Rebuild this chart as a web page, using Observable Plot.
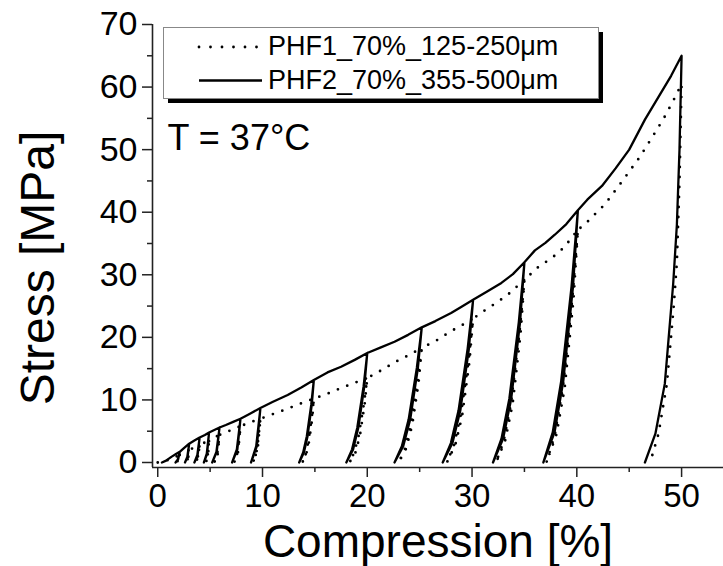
<!DOCTYPE html>
<html><head><meta charset="utf-8">
<script src="https://cdn.jsdelivr.net/npm/d3@7"></script>
<script src="https://cdn.jsdelivr.net/npm/@observablehq/plot@0.6"></script>
<style>
html,body{margin:0;padding:0;background:#fff;}
#chart{position:relative;width:723px;height:566px;font-family:"Liberation Sans",Arial,sans-serif;}
</style></head><body><div id="chart"></div>
<script>
const seriesNames = ["PHF1_70%_125-250μm", "PHF2_70%_355-500μm"];
const xTitle = "Compression [%]";
const yTitle = "Stress [MPa]";
const annotation = "T = 37°C";
const xMajor = [0, 10, 20, 30, 40, 50];
const xMinor = [5, 15, 25, 35, 45];
const yMajor = [0, 10, 20, 30, 40, 50, 60, 70];
const yMinor = [5, 15, 25, 35, 45, 55, 65];
const xDomain = [-0.5, 54];
const yDomain = [-0.8, 70];

// PHF1 (dotted): [strain %, stress MPa] along the loading/unloading path
const phf1 = [
[0,0],[0.6,0.2],[1.2,0.5],[1.7,0.9],[2.1,1.2],
[1.97,0.4],[1.8,0],[2.0,0.4],[2.1,1.2],
[2.5,1.5],[3.0,2.0],
[2.87,0.6],[2.7,0],[2.9,0.6],[3.0,2.0],
[3.5,2.4],[4.0,2.8],
[3.82,0.8],[3.6,0],[3.85,0.8],[4.0,2.8],
[4.5,3.2],[4.9,3.6],
[4.77,1.1],[4.6,0],[4.8,1.1],[4.9,3.6],
[5.4,4.0],[5.9,4.4],
[5.68,1.3],[5.4,0],[5.72,1.3],[5.9,4.4],
[6.9,5.1],[7.9,5.8],
[7.63,1.7],[7.3,0],[7.67,1.7],[7.9,5.8],
[8.8,6.4],[9.8,7.0],
[9.49,2.1],[9.1,0],[9.54,2.1],[9.8,7.0],
[11.1,7.8],[12.4,8.6],[13.6,9.4],[14.9,10.2],
[14.7,7.1],[14.37,3.3],[14.1,1.2],[13.8,0],[14.15,1.2],[14.44,3.3],[14.75,7.1],[14.9,10.2],
[16.2,11.0],[17.8,12.1],[20.0,13.5],
[19.69,9.5],[19.18,4.3],[18.76,1.6],[18.3,0],[18.87,1.6],[19.3,4.3],[19.76,9.5],[20.0,13.5],
[21.2,14.6],[22.6,16.0],[23.9,17.1],[25.2,18.3],
[24.8,12.8],[24.14,5.9],[23.59,2.2],[23.0,0],[23.7,2.2],[24.28,5.9],[24.9,12.8],[25.2,18.3],
[26.7,19.6],[28.0,21.0],[29.0,21.9],[30.1,23.0],
[29.65,16.1],[28.9,7.4],[28.28,2.8],[27.6,0],[28.4,2.8],[29.05,7.4],[29.75,16.1],[30.1,23.0],
[31.2,24.3],[32.3,25.5],[33.4,26.8],[35.0,29.2],
[34.51,20.4],[33.7,9.3],[33.03,3.5],[32.3,0],[33.16,3.5],[33.87,9.3],[34.62,20.4],[35.0,29.2],
[36.3,31.2],[37.7,32.8],[38.8,34.4],[40.1,37.2],
[39.56,26.0],[38.66,11.9],[37.91,4.5],[37.1,0],[38.06,4.5],[38.84,11.9],[39.68,26.0],[40.1,37.2],
[40.8,38.1],[41.8,39.8],[42.7,41.3],[44.4,45.1],[46.0,48.8],[47.2,52.0],[48.3,55.0],[49.2,57.8],[50.0,60.5],
[49.8,45.0],[49.55,32.0],[49.25,25.0],[48.6,12.6],[47.8,4.6],[47.0,0]
];

// PHF2 (solid)
const phf2 = [
[0.4,0],[0.8,0.3],[1.3,0.9],[1.7,1.3],[2.1,1.7],
[1.92,0.5],[1.7,0],[1.95,0.5],[2.1,1.7],
[2.5,2.3],[3.0,3.0],
[2.82,0.9],[2.6,0],[2.85,0.9],[3.0,3.0],
[3.5,3.5],[4.0,4.0],
[3.78,1.2],[3.5,0],[3.81,1.2],[4.0,4.0],
[4.5,4.4],[4.9,4.8],
[4.68,1.4],[4.4,0],[4.71,1.4],[4.9,4.8],
[5.4,5.2],[5.9,5.6],
[5.6,1.7],[5.2,0],[5.63,1.7],[5.9,5.6],
[6.5,6.0],[7.2,6.5],[7.9,7.0],
[7.55,2.1],[7.1,0],[7.6,2.1],[7.9,7.0],
[8.8,7.8],[9.8,8.7],
[9.4,2.6],[8.9,0],[9.46,2.6],[9.8,8.7],
[11.0,9.7],[12.4,10.8],[13.7,12.0],[14.9,13.2],
[14.65,9.2],[14.23,4.2],[13.88,1.6],[13.5,0],[13.95,1.6],[14.3,4.2],[14.7,9.2],[14.9,13.2],
[16.2,14.4],[17.5,15.3],[18.8,16.4],[20.0,17.5],
[19.65,12.2],[19.05,5.6],[18.55,2.1],[18.0,0],[18.65,2.1],[19.15,5.6],[19.72,12.2],[20.0,17.5],
[21.3,18.4],[22.6,19.3],[23.9,20.4],[25.2,21.6],
[24.73,15.1],[23.95,6.9],[23.3,2.6],[22.6,0],[23.43,2.6],[24.1,6.9],[24.83,15.1],[25.2,21.6],
[26.5,22.6],[28.0,23.9],[29.0,24.9],[30.1,26.0],
[29.58,18.2],[28.71,8.3],[27.98,3.1],[27.2,0],[28.13,3.1],[28.88,8.3],[29.7,18.2],[30.1,26.0],
[31.4,27.3],[32.8,28.7],[33.9,30.1],[35.0,32.0],
[34.46,22.4],[33.56,10.2],[32.81,3.8],[32.0,0],[32.96,3.8],[33.74,10.2],[34.58,22.4],[35.0,32.0],
[36.0,33.9],[37.0,35.1],[37.9,36.4],[39.0,38.1],[40.1,40.3],
[39.5,28.2],[38.5,12.9],[37.7,4.8],[36.8,0],[37.87,4.8],[38.7,12.9],[39.64,28.2],[40.1,40.3],
[41.0,42.0],[42.4,44.2],[43.7,47.0],[45.0,50.0],[46.5,54.8],[48.0,59.0],[49.0,61.8],[50.0,65.0],
[49.8,50.0],[49.55,38.0],[49.2,28.6],[48.4,12.6],[47.5,4.6],[46.5,0]
];

const toRows = (arr, name) => arr.map(([x, y]) => ({series: name, x, y}));
const rows1 = toRows(phf1, seriesNames[0]);
const rows2 = toRows(phf2, seriesNames[1]);

const font = "'Liberation Sans', Arial, sans-serif";
const axisStroke = "#222";

const plot = Plot.plot({
  width: 723, height: 566,
  marginLeft: 152, marginRight: 0, marginTop: 24, marginBottom: 99,
  x: {domain: xDomain, label: null},
  y: {domain: yDomain, label: null},
  style: {fontFamily: font, background: "white", color: "black"},
  marks: [
    Plot.ruleX([xDomain[0]], {stroke: axisStroke, strokeWidth: 1.6}),
    Plot.ruleY([yDomain[0]], {stroke: axisStroke, strokeWidth: 1.6}),
    Plot.axisX(xMajor, {tickSize: 10, tickPadding: 6, fontSize: 33, label: null, stroke: axisStroke, strokeWidth: 1.5}),
    Plot.axisX(xMinor, {tickSize: 5, tickFormat: () => "", label: null, stroke: axisStroke, strokeWidth: 1.5}),
    Plot.axisY(yMajor, {tickSize: 10, tickPadding: 5, fontSize: 34, label: null, stroke: axisStroke, strokeWidth: 1.5}),
    Plot.axisY(yMinor, {tickSize: 5, tickFormat: () => "", label: null, stroke: axisStroke, strokeWidth: 1.5}),
    Plot.line(rows1, {x: "x", y: "y", stroke: "black", strokeWidth: 2.8, strokeDasharray: "0,10", strokeLinecap: "round"}),
    Plot.line(rows2, {x: "x", y: "y", stroke: "black", strokeWidth: 2.3, strokeLinejoin: "round"}),
    Plot.text([annotation], {text: d => d, frameAnchor: "top-left", textAnchor: "start", lineAnchor: "top", dx: 15, dy: 100, fontSize: 36, fill: "black"}),
    Plot.text([xTitle], {text: d => d, frameAnchor: "bottom", textAnchor: "middle", lineAnchor: "bottom", dy: 89, fontSize: 46, fill: "black"}),
    Plot.text([yTitle], {text: d => d, frameAnchor: "left", textAnchor: "middle", lineAnchor: "bottom", rotate: -90, dx: -99, dy: 22, fontSize: 48, fill: "black"})
  ]
});
document.getElementById("chart").appendChild(plot);

// Legend overlay (inside the plot area, top)
const lg = d3.select("#chart").append("svg")
  .attr("width", 723).attr("height", 566)
  .style("position", "absolute").style("left", "0px").style("top", "0px")
  .style("pointer-events", "none")
  .style("font-family", font);
lg.append("rect").attr("x", 168).attr("y", 32).attr("width", 435).attr("height", 71).attr("fill", "black");
lg.append("rect").attr("x", 163.5).attr("y", 27.5).attr("width", 435).attr("height", 71)
  .attr("fill", "white").attr("stroke", "#888").attr("stroke-width", 1);
const legendStyles = [
  {dash: "0,11.5", width: 2.8},
  {dash: null, width: 2.3}
];
seriesNames.forEach((name, i) => {
  const yLine = 47 + i * 33.5;
  const ln = lg.append("line").attr("x1", 199).attr("x2", 262).attr("y1", yLine).attr("y2", yLine)
    .attr("stroke", "black").attr("stroke-width", legendStyles[i].width).attr("stroke-linecap", legendStyles[i].dash ? "round" : "butt");
  if (legendStyles[i].dash) ln.attr("stroke-dasharray", legendStyles[i].dash);
  lg.append("text").attr("x", 268).attr("y", 55 + i * 34).attr("font-size", 27).attr("fill", "black").text(name);
});
</script></body></html>
